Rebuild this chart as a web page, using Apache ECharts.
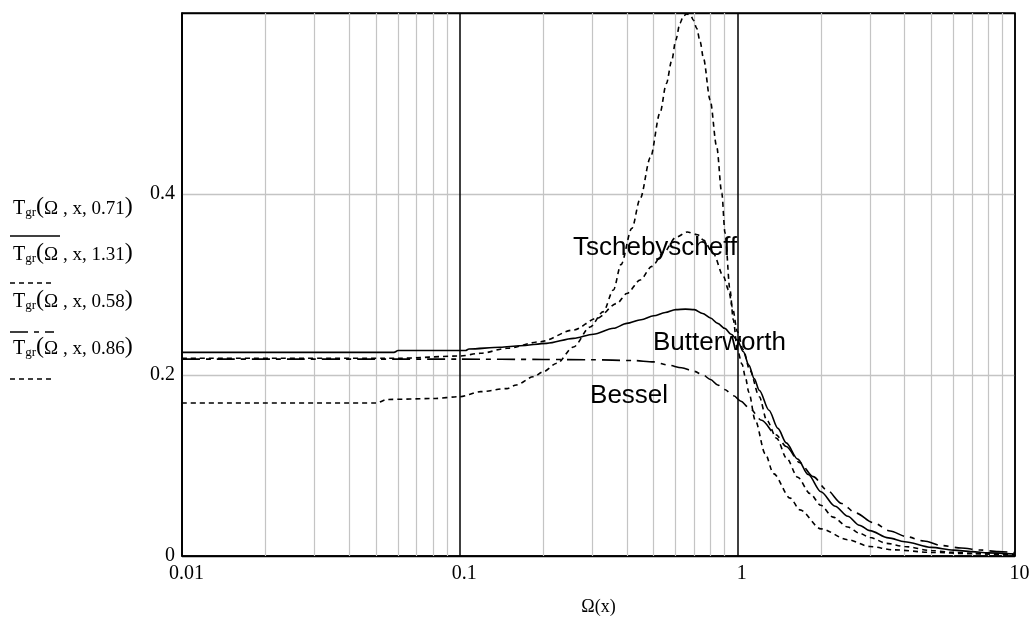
<!DOCTYPE html>
<html><head><meta charset="utf-8">
<script src="https://cdn.jsdelivr.net/npm/echarts@6/dist/echarts.min.js"></script>
<style>html,body{margin:0;padding:0;background:#fff}#c{width:1030px;height:619px}</style>
</head><body><div id="c"></div>
<script>
// ---- data ----
const xTickValues = [0.01, 0.1, 1, 10];
const yTickValues = [0, 0.2, 0.4, 0.6];
const minorGridX = [0.02,0.03,0.04,0.05,0.06,0.07,0.08,0.09,0.2,0.3,0.4,0.5,0.6,0.7,0.8,0.9,2,3,4,5,6,7,8,9];
const qLabels = ['0.71', '1.31', '0.58', '0.86'];
const annotations = ['Tschebyscheff', 'Butterworth', 'Bessel'];

// Q = 0.71 (solid, Butterworth)
const omega071 = [0.01,0.058,0.06,0.105,0.108,0.14,0.165,0.206,0.257,0.303,0.358,0.40,0.45,0.50,0.55,0.60,0.65,0.70,0.75,0.80,0.85,0.90,0.95,1.0,1.05,1.1,1.15,1.2,1.3,1.4,1.5,1.65,1.8,2.0,2.25,2.5,2.75,3.0,3.5,4.0,5.0,6.0,7.0,8.0,10];
const tgr071   = [0.225,0.225,0.227,0.227,0.2287,0.2306,0.2324,0.235,0.2405,0.245,0.2516,0.257,0.261,0.2655,0.269,0.2722,0.2728,0.2722,0.268,0.263,0.257,0.2516,0.245,0.2387,0.226,0.211,0.196,0.183,0.161,0.141,0.125,0.107,0.090,0.071,0.055,0.044,0.034,0.028,0.020,0.0158,0.0095,0.0065,0.0048,0.0035,0.0022];

// Q = 1.31 (short dashes, tall peak)
const omega131 = [0.01,0.05,0.055,0.08,0.1,0.119,0.148,0.16,0.184,0.2,0.224,0.257,0.295,0.329,0.358,0.381,0.417,0.447,0.486,0.527,0.555,0.581,0.60,0.622,0.64,0.658,0.68,0.695,0.714,0.735,0.755,0.798,0.843,0.879,0.903,0.941,0.967,1.0,1.04,1.07,1.1,1.16,1.26,1.35,1.55,1.68,2.0,2.5,3.0,3.65,5,7,10];
const tgr131   = [0.169,0.169,0.173,0.174,0.176,0.1816,0.185,0.189,0.198,0.2036,0.213,0.231,0.253,0.270,0.294,0.322,0.362,0.395,0.440,0.490,0.522,0.548,0.570,0.589,0.597,0.599,0.597,0.592,0.583,0.568,0.550,0.504,0.452,0.401,0.357,0.294,0.261,0.228,0.212,0.197,0.181,0.150,0.113,0.091,0.064,0.051,0.030,0.018,0.0105,0.0068,0.004,0.0025,0.0015];

// Q = 0.58 (dash-dot, Bessel)
const omega058 = [0.01,0.1,0.2,0.3,0.42,0.5,0.563,0.63,0.7,0.753,0.8,0.85,0.9,0.97,1.03,1.1,1.224,1.378,1.5,1.68,1.876,2.1,2.375,2.67,3.09,3.55,4.07,4.7,5.44,6.4,7.5,8.7,10];
const tgr058   = [0.2175,0.2175,0.2172,0.2168,0.216,0.2145,0.211,0.208,0.204,0.200,0.195,0.189,0.184,0.177,0.171,0.164,0.150,0.134,0.121,0.103,0.0877,0.073,0.058,0.0475,0.0368,0.0276,0.0213,0.0166,0.0115,0.0088,0.0066,0.0048,0.0038];

// Q = 0.86 (short dashes, Tschebyscheff)
const omega086 = [0.01,0.06,0.1,0.119,0.148,0.195,0.257,0.312,0.368,0.40,0.447,0.492,0.545,0.6,0.66,0.72,0.755,0.82,0.891,0.93,0.96,1.0,1.05,1.11,1.2,1.276,1.386,1.505,1.65,1.826,2.0,2.21,2.5,2.76,3.0,3.45,4,5,6,7,8,10];
const tgr086   = [0.2185,0.2185,0.221,0.224,0.2295,0.2368,0.2497,0.2626,0.279,0.290,0.305,0.320,0.336,0.352,0.358,0.355,0.349,0.334,0.309,0.294,0.275,0.248,0.228,0.205,0.176,0.150,0.130,0.108,0.087,0.069,0.056,0.043,0.032,0.025,0.0205,0.014,0.0105,0.006,0.004,0.003,0.0023,0.0015];

// ---- chart ----
const zip = (xs, ys) => xs.map((x, i) => [x, ys[i]]);
const serif = 'Liberation Serif, Times New Roman, serif';
const sans = 'Liberation Sans, Arial, sans-serif';
const dashShort = [5, 4];
const dashDot = [18, 6, 5, 6];

const chart = echarts.init(document.getElementById('c'), null, {renderer: 'canvas'});

function lineSeries(name, xs, ys, dash, extra) {
  return Object.assign({
    type: 'line', name: name, data: zip(xs, ys),
    showSymbol: false, symbol: 'none', smooth: 0.3, smoothMonotone: 'x',
    lineStyle: {color: '#000', width: 1.6, type: dash},
    z: 3, animation: false, silent: true
  }, extra || {});
}

const legendRich = {
  t: {fontFamily: serif, fontSize: 20, lineHeight: 26, verticalAlign: 'bottom', color: '#000'},
  c: {fontFamily: serif, fontSize: 19, lineHeight: 26, verticalAlign: 'bottom', color: '#000'},
  s: {fontFamily: serif, fontSize: 13, lineHeight: 13, verticalAlign: 'bottom', color: '#000'},
  p: {fontFamily: serif, fontSize: 24, lineHeight: 26, verticalAlign: 'bottom', color: '#000'}
};
const legendTop = [195, 241, 288, 335];
const legendLineY = [236, 283, 332, 379];
const legendDash = ['solid', dashShort, dashDot, dashShort];
const graphics = [];
qLabels.forEach((q, i) => {
  graphics.push({
    type: 'text', left: 13, top: legendTop[i], silent: true,
    style: {text: '{t|T}{s|gr}{p|(}{c|Ω , x, ' + q + '}{p|)}', rich: legendRich}
  });
  graphics.push({
    type: 'line', silent: true,
    shape: {x1: 10, y1: legendLineY[i], x2: i === 0 ? 60 : 54, y2: legendLineY[i]},
    style: {stroke: '#000', lineWidth: 1.4, lineDash: legendDash[i] === 'solid' ? null : legendDash[i]}
  });
});

const option = {
  backgroundColor: '#fff',
  animation: false,
  grid: {left: 182, right: 15, top: 13, bottom: 63, show: true, borderColor: '#000', borderWidth: 1.5,
    backgroundColor: 'transparent', containLabel: false, outerBoundsMode: 'none'},
  xAxis: {
    type: 'log', min: xTickValues[0], max: xTickValues[xTickValues.length - 1], logBase: 10,
    name: 'Ω(x)', nameLocation: 'middle', nameGap: 42,
    nameTextStyle: {fontFamily: serif, fontSize: 18, color: '#000'},
    axisLine: {show: true, lineStyle: {color: '#000', width: 1.5}},
    axisTick: {show: false},
    axisLabel: {fontFamily: serif, fontSize: 20, color: '#000', margin: 8, padding: [0, 0, 0, 9],
      formatter: v => String(+v.toPrecision(3))},
    splitLine: {show: true, lineStyle: {color: '#000', width: 1.5}},
    minorTick: {show: false}, minorSplitLine: {show: false}
  },
  yAxis: {
    type: 'value', min: yTickValues[0], max: yTickValues[yTickValues.length - 1], interval: 0.2,
    axisLine: {show: true, lineStyle: {color: '#000', width: 1.5}},
    axisTick: {show: false},
    axisLabel: {fontFamily: serif, fontSize: 20, color: '#000', margin: 7, padding: [6, 0, 0, 0],
      formatter: v => (Math.abs(v - 0.6) < 1e-6 ? '' : String(+v.toFixed(1)))},
    splitLine: {show: true, lineStyle: {color: ['#000', '#c4c4c4', '#c4c4c4', '#000'], width: 1.3}}
  },
  graphic: graphics,
  series: [
    lineSeries('T_gr(Ω, x, 0.71)', omega071, tgr071, 'solid', {
      markLine: {
        silent: true, symbol: 'none', z: 1, animation: false,
        label: {show: false},
        lineStyle: {color: '#c4c4c4', width: 1.2, type: 'solid'},
        emphasis: {disabled: true},
        data: minorGridX.map(v => ({xAxis: v}))
      },
      markPoint: {
        silent: true, symbol: 'circle', symbolSize: 0.1, animation: false,
        itemStyle: {color: 'transparent'},
        label: {show: true, position: [0, 0], align: 'left', verticalAlign: 'middle',
          fontFamily: sans, fontSize: 26, color: '#000', formatter: p => p.name},
        data: [
          {name: annotations[0], coord: [0.256, 0.341]},
          {name: annotations[1], coord: [0.497, 0.2354]},
          {name: annotations[2], coord: [0.295, 0.1765]}
        ]
      }
    }),
    lineSeries('T_gr(Ω, x, 1.31)', omega131, tgr131, dashShort),
    lineSeries('T_gr(Ω, x, 0.58)', omega058, tgr058, dashDot),
    lineSeries('T_gr(Ω, x, 0.86)', omega086, tgr086, dashShort)
  ]
};
chart.setOption(option);
</script>
</body></html>
